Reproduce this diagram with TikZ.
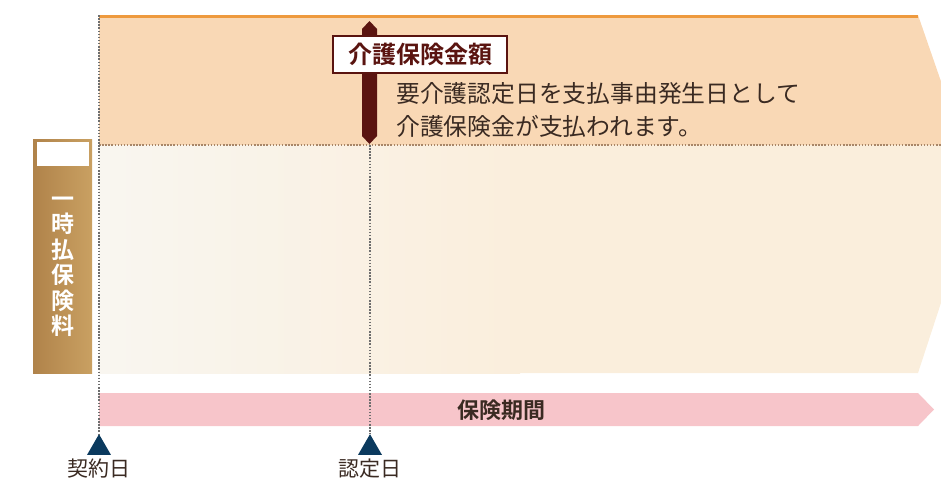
\documentclass[tikz,border=0pt]{standalone}
\usepackage{fontspec}
\setmainfont{Noto Sans CJK JP}[BoldFont={Noto Sans CJK JP Bold}]
\usetikzlibrary{shapes,arrows,positioning}

\definecolor{careband}{HTML}{F9D8B5}
\definecolor{careline}{HTML}{EE9A3E}
\definecolor{premiumbg}{HTML}{FAEEDC}
\definecolor{premiumfade}{HTML}{F9F6F0}
\definecolor{benefitred}{HTML}{5A1410}
\definecolor{periodpink}{HTML}{F7C5CA}
\definecolor{marknavy}{HTML}{0B3A5E}
\definecolor{barbrownL}{HTML}{B0834A}
\definecolor{barbrownR}{HTML}{C9A062}
\definecolor{inkdark}{HTML}{3A2A22}
\definecolor{dotgray}{HTML}{6E6E6E}
\definecolor{dotbrown}{HTML}{A88668}

\begin{document}
\begin{tikzpicture}[
    x=1pt, y=-1pt,
    guide/.style={dotgray, line width=1.5pt, dash pattern=on 1.5pt off 1.6pt},
    marker/.style={regular polygon, regular polygon sides=3, minimum size=27.7pt, inner sep=0pt, fill=marknavy},
    datelabel/.style={font=\fontsize{21}{22}\selectfont, text=inkdark, inner sep=0pt},
    benefittag/.style={draw=benefitred, line width=2pt, fill=white, minimum width=174pt, minimum height=37pt, inner sep=0pt, font=\fontsize{24}{26}\selectfont\bfseries, text=benefitred}
]

\useasboundingbox (0,0) rectangle (941,482);
\clip (0,0) rectangle (941,482);

% Care benefit band
\fill[careband] (99,15) -- (918,15) -- (963,145) -- (99,145) -- cycle;
\fill[premiumbg] (99,145) -- (963,145) -- (978,190) -- (918,373) -- (99,373) -- cycle;
\shade[left color=premiumfade, right color=premiumbg] (99,145) rectangle (520,373);
\draw[careline, line width=3pt] (99,16.5) -- (918,16.5);

% Insurance period
\fill[periodpink] (99,393) -- (918,393) -- (934,409.5) -- (918,426) -- (99,426) -- cycle;
\node[font=\fontsize{22}{24}\selectfont\bfseries, text=inkdark] (period) at (501,410) {保険期間};

% Single premium
\node[left color=barbrownL, right color=barbrownR, minimum width=59pt, minimum height=234pt, inner sep=0pt] (premium) at (62.5,256) {};
\node[fill=white, minimum width=52pt, minimum height=24pt, inner sep=0pt] (premiumtag) at (63,154) {};
\node[text=white, font=\fontsize{23}{25.5}\selectfont\bfseries, align=center, inner sep=0pt] (premiumtxt) at (62.5,267) {一\\時\\払\\保\\険\\料};

% Markers
\node[marker] (contract) at (99,448) {};
\node[marker] (certify) at (370,448) {};
\node[datelabel, below=4pt of contract] (contractlbl) {契約日};
\node[datelabel, below=4pt of certify] (certifylbl) {認定日};

% Guides
\coordinate (starttop) at (99,15);
\coordinate (certtop) at (370,145);
\coordinate (divL) at (99,145);
\coordinate (divR) at (941,145);
\draw[guide, dotbrown] (divL) -- (divR);
\draw[guide] (starttop) -- (contract.corner 1);
\draw[guide] (certtop) -- (certify.corner 1);

% Benefit
\fill[benefitred] (362,29) -- (369.5,21) -- (377,29) -- (377,136) -- (369.5,144) -- (362,136) -- cycle;
\node[benefittag] (benefitbox) at (420,54.5) {介護保険金額};
\node[anchor=west, align=left, font=\fontsize{23.8}{33}\selectfont, text=inkdark, inner sep=0pt] (benefittxt) at (396,110) {要介護認定日を支払事由発生日として\\介護保険金が支払われます。};

\end{tikzpicture}
\end{document}
